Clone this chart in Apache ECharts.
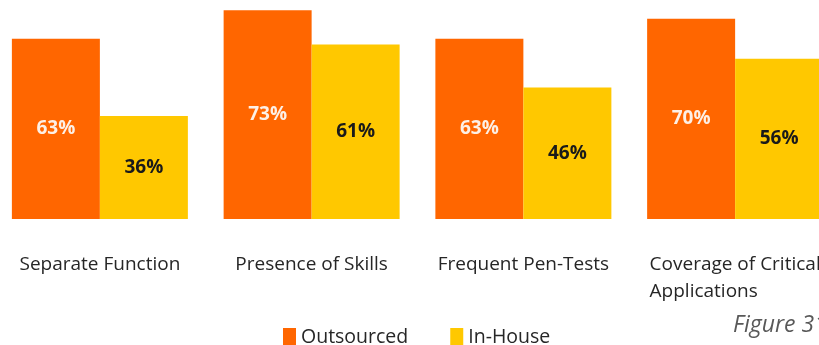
<!DOCTYPE html>
<html>
<head>
<meta charset="utf-8">
<script src="https://cdn.jsdelivr.net/npm/echarts@6/dist/echarts.min.js"></script>
<style>
  html, body { margin: 0; padding: 0; background: #ffffff; }
  #chart { width: 819px; height: 345px; }
</style>
</head>
<body>
<div id="chart"></div>
<script>
// Share of organisations reporting each practice, by delivery model
const categories = ['Separate Function', 'Presence of Skills', 'Frequent Pen-Tests', 'Coverage of Critical Applications'];
const outsourced = [63, 73, 63, 70];
const inHouse = [36, 61, 46, 56];
const seriesNames = ['Outsourced', 'In-House'];
const caption = 'Figure 31';

const FONT = '"Open Sans", sans-serif';
const chart = echarts.init(document.getElementById('chart'), null, { renderer: 'canvas' });

chart.setOption({
  animation: false,
  backgroundColor: '#ffffff',
  title: {
    text: caption,
    left: 733,
    top: 314,
    padding: 0,
    textStyle: {
      fontFamily: FONT,
      fontStyle: 'italic',
      fontWeight: 'normal',
      fontSize: 23,
      color: '#595959'
    }
  },
  legend: {
    data: seriesNames,
    left: 283,
    top: 327,
    padding: 0,
    itemWidth: 13,
    itemHeight: 18,
    itemGap: 42,
    icon: 'rect',
    textStyle: { fontFamily: FONT, fontSize: 19.5, color: '#262626' }
  },
  grid: { left: -6, right: -22, top: -67, bottom: 126, outerBoundsMode: 'none', containLabel: false },
  xAxis: {
    type: 'category',
    data: categories,
    axisLine: { show: false },
    axisTick: { show: false },
    axisLabel: {
      interval: 0,
      margin: 32,
      formatter: function (v) {
        // the last category wraps onto two left-aligned lines
        if (v === 'Coverage of Critical Applications') {
          return '{l|Coverage of Critical}\n{l|Applications}';
        }
        return '{c|' + v + '}';
      },
      rich: {
        c: { fontFamily: FONT, fontSize: 19, lineHeight: 27, color: '#262626' },
        l: { fontFamily: FONT, fontSize: 19, lineHeight: 27, color: '#262626', align: 'left' }
      }
    }
  },
  yAxis: {
    type: 'value',
    min: 0,
    max: 100,
    show: false,
    splitLine: { show: false }
  },
  series: [
    {
      name: seriesNames[0],
      type: 'bar',
      data: outsourced,
      barWidth: 88,
      barGap: '0%',
      itemStyle: { color: '#FF6600' },
      label: {
        show: true,
        position: 'inside',
        formatter: '{c}%',
        fontFamily: FONT,
        fontWeight: 'bold',
        fontSize: 19,
        color: '#fdf0e6'
      }
    },
    {
      name: seriesNames[1],
      type: 'bar',
      data: inHouse,
      barWidth: 88,
      barGap: '0%',
      itemStyle: { color: '#FFC800' },
      label: {
        show: true,
        position: 'inside',
        formatter: '{c}%',
        fontFamily: FONT,
        fontWeight: 'bold',
        fontSize: 19,
        color: '#1a1a1a'
      }
    }
  ]
});
</script>
</body>
</html>
